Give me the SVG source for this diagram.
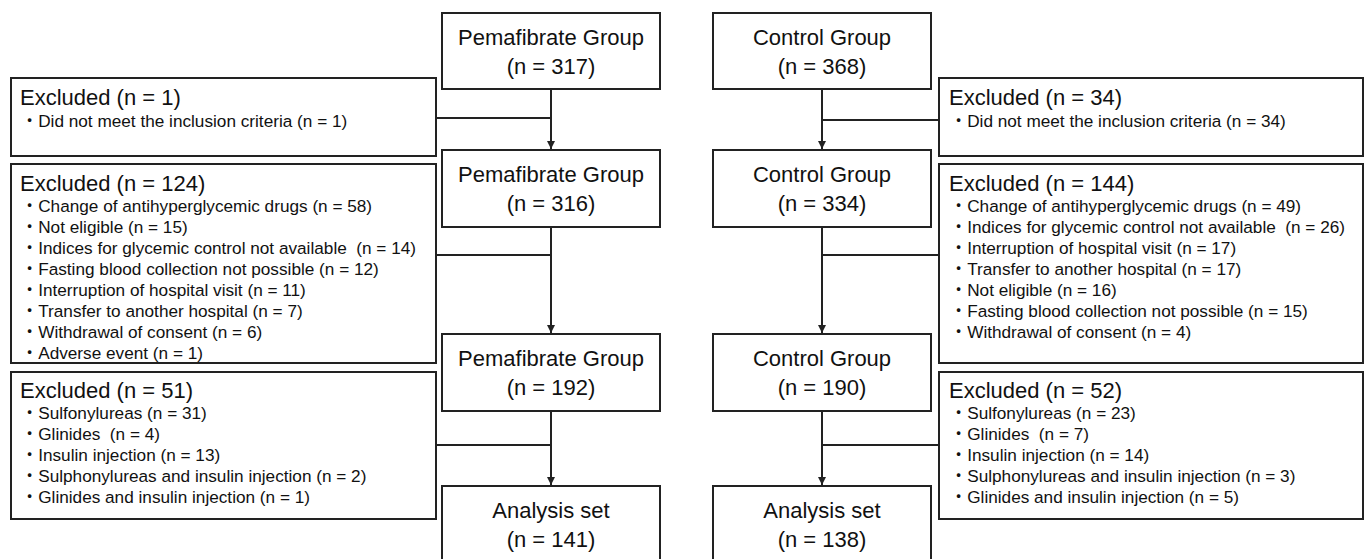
<svg xmlns="http://www.w3.org/2000/svg" width="1368" height="559" viewBox="0 0 1368 559">
<defs>
<style>
.box{fill:#fff;stroke:#222;stroke-width:2}
.ln{fill:none;stroke:#222;stroke-width:2}
.c{font-family:"Liberation Sans",Arial,sans-serif;font-size:22px;fill:#111;text-anchor:middle}
.h{font-family:"Liberation Sans",Arial,sans-serif;font-size:22px;fill:#111}
.b{font-family:"Liberation Sans",Arial,"Noto Sans CJK JP",sans-serif;font-size:17.2px;fill:#111}
</style>
<marker id="arr" markerUnits="userSpaceOnUse" markerWidth="9" markerHeight="9" refX="8" refY="4" orient="auto">
<path d="M0,0 L8,4 L0,8 Z" fill="#222"/>
</marker>
</defs>
<rect width="1368" height="559" fill="#fff"/>

<g id="connectors">
<line class="ln" x1="551" y1="89" x2="551" y2="149" marker-end="url(#arr)"/>
<line class="ln" x1="436" y1="118" x2="551" y2="118"/>
<line class="ln" x1="551" y1="227" x2="551" y2="333" marker-end="url(#arr)"/>
<line class="ln" x1="436" y1="255" x2="551" y2="255"/>
<line class="ln" x1="551" y1="411" x2="551" y2="485" marker-end="url(#arr)"/>
<line class="ln" x1="436" y1="445" x2="551" y2="445"/>
<line class="ln" x1="822" y1="89" x2="822" y2="149" marker-end="url(#arr)"/>
<line class="ln" x1="822" y1="120" x2="939" y2="120"/>
<line class="ln" x1="822" y1="227" x2="822" y2="333" marker-end="url(#arr)"/>
<line class="ln" x1="822" y1="255" x2="939" y2="255"/>
<line class="ln" x1="822" y1="411" x2="822" y2="485" marker-end="url(#arr)"/>
<line class="ln" x1="822" y1="445" x2="939" y2="445"/>
</g>

<g id="pema317">
<rect class="box" x="442" y="13" width="218" height="76"/>
<text class="c" x="551" y="45">Pemafibrate Group</text>
<text class="c" x="551" y="74">(n = 317)</text>
</g>
<g id="pema316">
<rect class="box" x="442" y="150" width="218" height="77"/>
<text class="c" x="551" y="182">Pemafibrate Group</text>
<text class="c" x="551" y="211">(n = 316)</text>
</g>
<g id="pema192">
<rect class="box" x="442" y="334" width="218" height="77"/>
<text class="c" x="551" y="366">Pemafibrate Group</text>
<text class="c" x="551" y="395">(n = 192)</text>
</g>
<g id="pema141">
<rect class="box" x="442" y="486" width="218" height="80"/>
<text class="c" x="551" y="518">Analysis set</text>
<text class="c" x="551" y="547">(n = 141)</text>
</g>

<g id="ctrl368">
<rect class="box" x="713" y="13" width="218" height="76"/>
<text class="c" x="822" y="45">Control Group</text>
<text class="c" x="822" y="74">(n = 368)</text>
</g>
<g id="ctrl334">
<rect class="box" x="713" y="150" width="218" height="77"/>
<text class="c" x="822" y="182">Control Group</text>
<text class="c" x="822" y="211">(n = 334)</text>
</g>
<g id="ctrl190">
<rect class="box" x="713" y="334" width="218" height="77"/>
<text class="c" x="822" y="366">Control Group</text>
<text class="c" x="822" y="395">(n = 190)</text>
</g>
<g id="ctrl138">
<rect class="box" x="713" y="486" width="218" height="80"/>
<text class="c" x="822" y="518">Analysis set</text>
<text class="c" x="822" y="547">(n = 138)</text>
</g>

<g id="excl1">
<rect class="box" x="11" y="78" width="425" height="78"/>
<text class="h" x="20" y="105">Excluded (n = 1)</text>
<text class="b" x="21" y="127">・Did not meet the inclusion criteria (n = 1)</text>
</g>
<g id="excl124">
<rect class="box" x="11" y="164" width="425" height="199"/>
<text class="h" x="20" y="191">Excluded (n = 124)</text>
<text class="b" x="21" y="211.5">・Change of antihyperglycemic drugs (n = 58)</text>
<text class="b" x="21" y="232.5">・Not eligible (n = 15)</text>
<text class="b" x="21" y="253.5">・Indices for glycemic control not available &#160;(n = 14)</text>
<text class="b" x="21" y="274.5">・Fasting blood collection not possible (n = 12)</text>
<text class="b" x="21" y="295.5">・Interruption of hospital visit (n = 11)</text>
<text class="b" x="21" y="316.5">・Transfer to another hospital (n = 7)</text>
<text class="b" x="21" y="337.5">・Withdrawal of consent (n = 6)</text>
<text class="b" x="21" y="358.5">・Adverse event (n = 1)</text>
</g>
<g id="excl51">
<rect class="box" x="11" y="372" width="425" height="147"/>
<text class="h" x="20" y="398">Excluded (n = 51)</text>
<text class="b" x="21" y="419">・Sulfonylureas (n = 31)</text>
<text class="b" x="21" y="440">・Glinides &#160;(n = 4)</text>
<text class="b" x="21" y="461">・Insulin injection (n = 13)</text>
<text class="b" x="21" y="482">・Sulphonylureas and insulin injection (n = 2)</text>
<text class="b" x="21" y="503">・Glinides and insulin injection (n = 1)</text>
</g>

<g id="excl34">
<rect class="box" x="939" y="78" width="424" height="78"/>
<text class="h" x="949" y="105">Excluded (n = 34)</text>
<text class="b" x="950" y="127">・Did not meet the inclusion criteria (n = 34)</text>
</g>
<g id="excl144">
<rect class="box" x="939" y="164" width="424" height="199"/>
<text class="h" x="949" y="191">Excluded (n = 144)</text>
<text class="b" x="950" y="211.5">・Change of antihyperglycemic drugs (n = 49)</text>
<text class="b" x="950" y="232.5">・Indices for glycemic control not available &#160;(n = 26)</text>
<text class="b" x="950" y="253.5">・Interruption of hospital visit (n = 17)</text>
<text class="b" x="950" y="274.5">・Transfer to another hospital (n = 17)</text>
<text class="b" x="950" y="295.5">・Not eligible (n = 16)</text>
<text class="b" x="950" y="316.5">・Fasting blood collection not possible (n = 15)</text>
<text class="b" x="950" y="337.5">・Withdrawal of consent (n = 4)</text>
</g>
<g id="excl52">
<rect class="box" x="939" y="372" width="424" height="147"/>
<text class="h" x="949" y="398">Excluded (n = 52)</text>
<text class="b" x="950" y="419">・Sulfonylureas (n = 23)</text>
<text class="b" x="950" y="440">・Glinides &#160;(n = 7)</text>
<text class="b" x="950" y="461">・Insulin injection (n = 14)</text>
<text class="b" x="950" y="482">・Sulphonylureas and insulin injection (n = 3)</text>
<text class="b" x="950" y="503">・Glinides and insulin injection (n = 5)</text>
</g>
</svg>
